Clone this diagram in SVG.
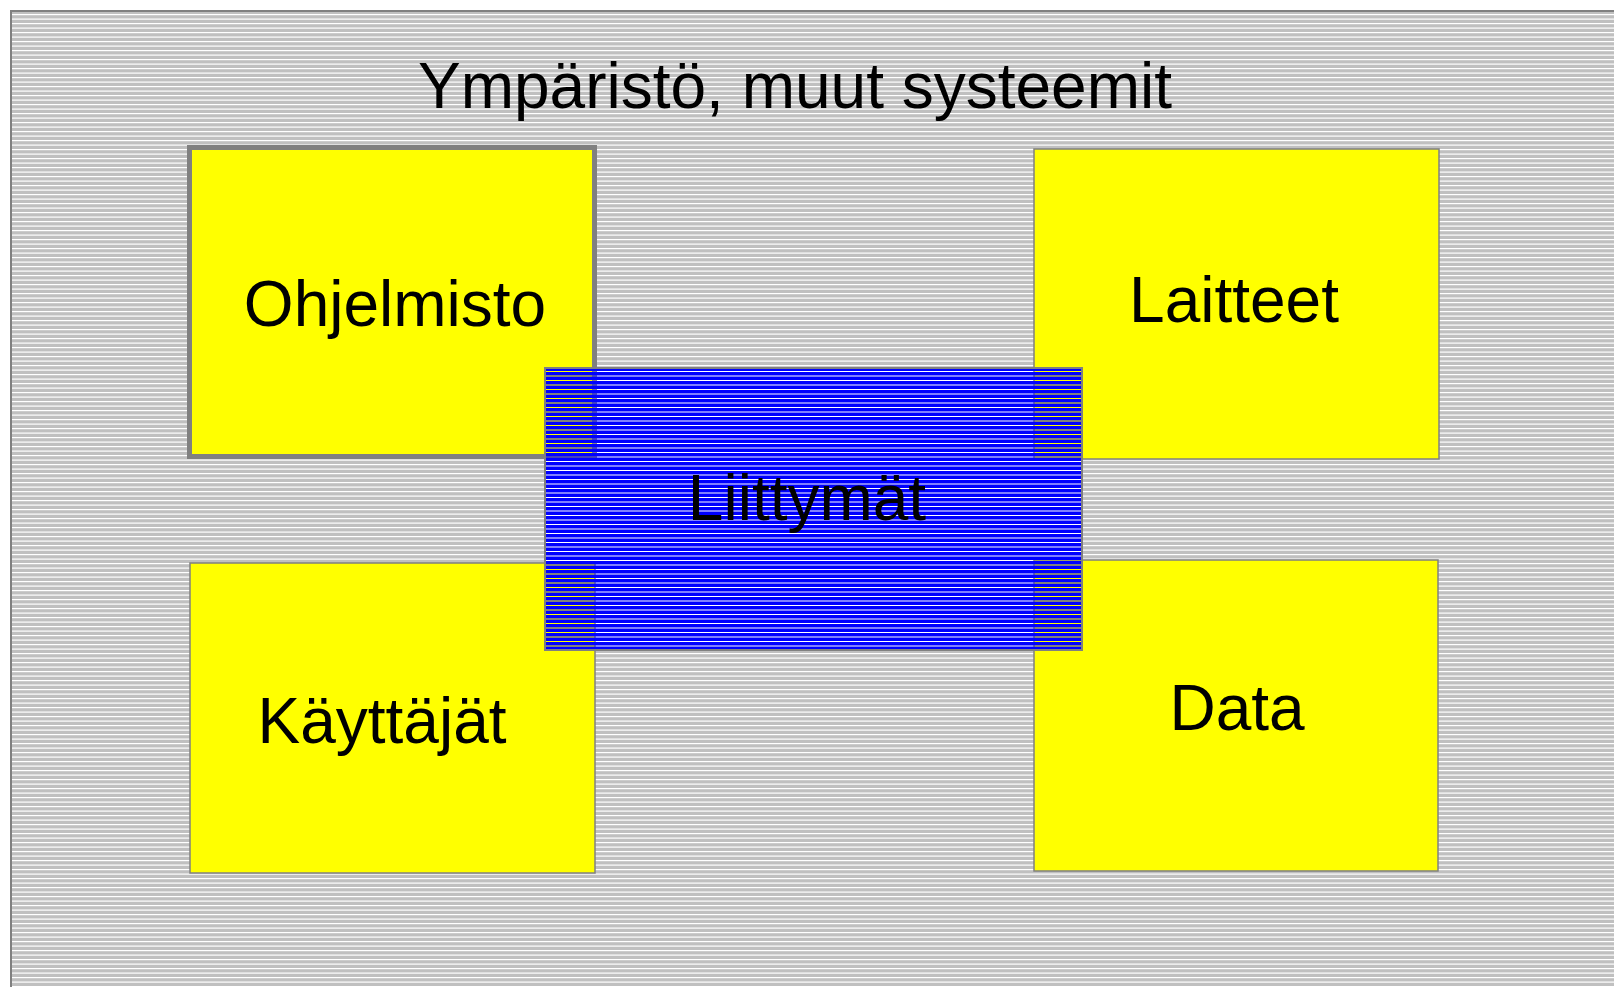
<svg xmlns="http://www.w3.org/2000/svg" width="1614" height="987" viewBox="0 0 1614 987">
<defs>
<pattern id="bg" x="0" y="12" width="18" height="9" patternUnits="userSpaceOnUse">
<rect width="18" height="9" fill="#c0c0c0"/>
<rect y="2" width="18" height="1.2" fill="#ffffff"/>
<rect y="6.5" width="18" height="1.2" fill="#ffffff"/>
</pattern>
<pattern id="blue" x="0" y="368" width="18" height="9" patternUnits="userSpaceOnUse">
<rect y="0" width="18" height="3" fill="#0000ff"/>
<rect y="4" width="18" height="3.5" fill="#0000ff"/>
<rect y="8.5" width="18" height="0.5" fill="#0000ff"/>
</pattern>
</defs>
<style>
.lbl{font-family:"Liberation Sans",Arial,sans-serif;fill:#000;text-anchor:middle;font-size:64px}
.box{fill:#ffff00;stroke:#808080;stroke-width:1.5}
.thick{stroke-width:5}
</style>
<rect width="1614" height="987" fill="#ffffff"/>
<g id="environment">
<rect x="11" y="11" width="1610" height="990" fill="url(#bg)" stroke="#808080" stroke-width="2"/>
<text class="lbl" x="795" y="108">Ympäristö, muut systeemit</text>
</g>
<rect x="545" y="368" width="537" height="282" fill="#ffffff"/>
<g id="ohjelmisto">
<rect class="box thick" x="189.5" y="147.5" width="405" height="309"/>
<text class="lbl" x="395" y="326">Ohjelmisto</text>
</g>
<g id="laitteet">
<rect class="box" x="1034" y="149" width="405" height="310"/>
<text class="lbl" x="1234" y="322">Laitteet</text>
</g>
<g id="kayttajat">
<rect class="box" x="190" y="563" width="405" height="310"/>
<text class="lbl" x="382" y="743">Käyttäjät</text>
</g>
<g id="data">
<rect class="box" x="1034" y="560" width="404" height="311"/>
<text class="lbl" x="1237" y="730">Data</text>
</g>
<g id="liittymat">
<rect x="545" y="368" width="537" height="282" fill="url(#blue)" stroke="#808080" stroke-width="2"/>
<text class="lbl" x="807" y="520">Liittymät</text>
</g>
<g id="connectors"/>
</svg>
